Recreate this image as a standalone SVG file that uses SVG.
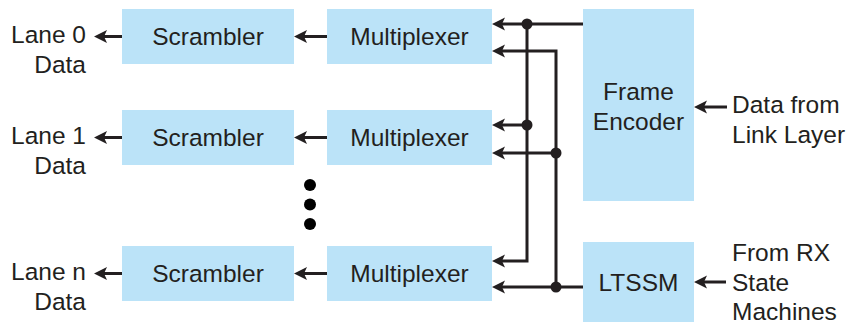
<svg xmlns="http://www.w3.org/2000/svg" width="850" height="324" viewBox="0 0 850 324">
<defs>
<style>
.box{fill:#bbe3f8}
.t{font-family:"Liberation Sans",Arial,sans-serif;font-size:24.5px;fill:#231f20}
.m{text-anchor:middle}
.e{text-anchor:end}
.ln{fill:none;stroke:#231f20;stroke-width:3;marker-end:url(#ah)}
.pl{fill:none;stroke:#231f20;stroke-width:3}
.dot{fill:#231f20}
.ell{fill:#000}
</style>
<marker id="ah" markerUnits="userSpaceOnUse" markerWidth="14" markerHeight="14" refX="4" refY="6.5" orient="auto">
<path d="M0,0 L13,6.5 L0,13 L3,6.5 z" fill="#231f20"/>
</marker>
</defs>
<rect width="850" height="324" fill="#fff"/>
<g id="scr0"><rect class="box" x="122" y="9" width="172" height="55"/><text class="t m" x="208" y="45">Scrambler</text></g>
<g id="scr1"><rect class="box" x="122" y="110" width="172" height="55"/><text class="t m" x="208" y="146">Scrambler</text></g>
<g id="scrn"><rect class="box" x="122" y="246" width="172" height="55"/><text class="t m" x="208" y="282">Scrambler</text></g>
<g id="mux0"><rect class="box" x="327" y="9" width="165" height="55"/><text class="t m" x="409.5" y="45">Multiplexer</text></g>
<g id="mux1"><rect class="box" x="327" y="110" width="165" height="55"/><text class="t m" x="409.5" y="146">Multiplexer</text></g>
<g id="muxn"><rect class="box" x="327" y="246" width="165" height="55"/><text class="t m" x="409.5" y="282">Multiplexer</text></g>
<g id="frame"><rect class="box" x="583" y="9" width="111" height="192"/><text class="t m" x="638.5" y="100">Frame</text><text class="t m" x="638.5" y="130">Encoder</text></g>
<g id="ltssm"><rect class="box" x="583" y="242" width="111" height="80"/><text class="t m" x="638.5" y="291">LTSSM</text></g>
<g id="lane0"><text class="t e" x="86" y="43">Lane 0</text><text class="t e" x="86" y="73">Data</text></g>
<g id="lane1"><text class="t e" x="86" y="144">Lane 1</text><text class="t e" x="86" y="174">Data</text></g>
<g id="lanen"><text class="t e" x="86" y="280">Lane n</text><text class="t e" x="86" y="310">Data</text></g>
<g id="linklayer"><text class="t" x="732" y="113">Data from</text><text class="t" x="732" y="143">Link Layer</text></g>
<g id="rx"><text class="t" x="732" y="261">From RX</text><text class="t" x="732" y="291">State</text><text class="t" x="732" y="320">Machines</text></g>
<g id="ellipsis"><circle class="ell" cx="310" cy="185" r="6"/><circle class="ell" cx="310" cy="204.5" r="6"/><circle class="ell" cx="310" cy="224" r="6"/></g>
<g id="connectors">
<path class="ln" d="M583,24 H501"/>
<path class="ln" d="M527,24 V261 H501"/>
<path class="ln" d="M527,125 H501"/>
<path class="ln" d="M583,287 H501"/>
<path class="ln" d="M556,287 V51 H501"/>
<path class="ln" d="M556,153 H501"/>
<path class="ln" d="M327,36.5 H303"/>
<path class="ln" d="M327,137.5 H303"/>
<path class="ln" d="M327,273.5 H303"/>
<path class="ln" d="M122,36.5 H103"/>
<path class="ln" d="M122,137.5 H103"/>
<path class="ln" d="M122,273.5 H103"/>
<path class="ln" d="M727,107 H703"/>
<path class="ln" d="M726,282 H703"/>
<circle class="dot" cx="527" cy="24" r="5.5"/>
<circle class="dot" cx="527" cy="125" r="5.5"/>
<circle class="dot" cx="556" cy="153" r="5.5"/>
<circle class="dot" cx="556" cy="287" r="5.5"/>
</g>
</svg>
